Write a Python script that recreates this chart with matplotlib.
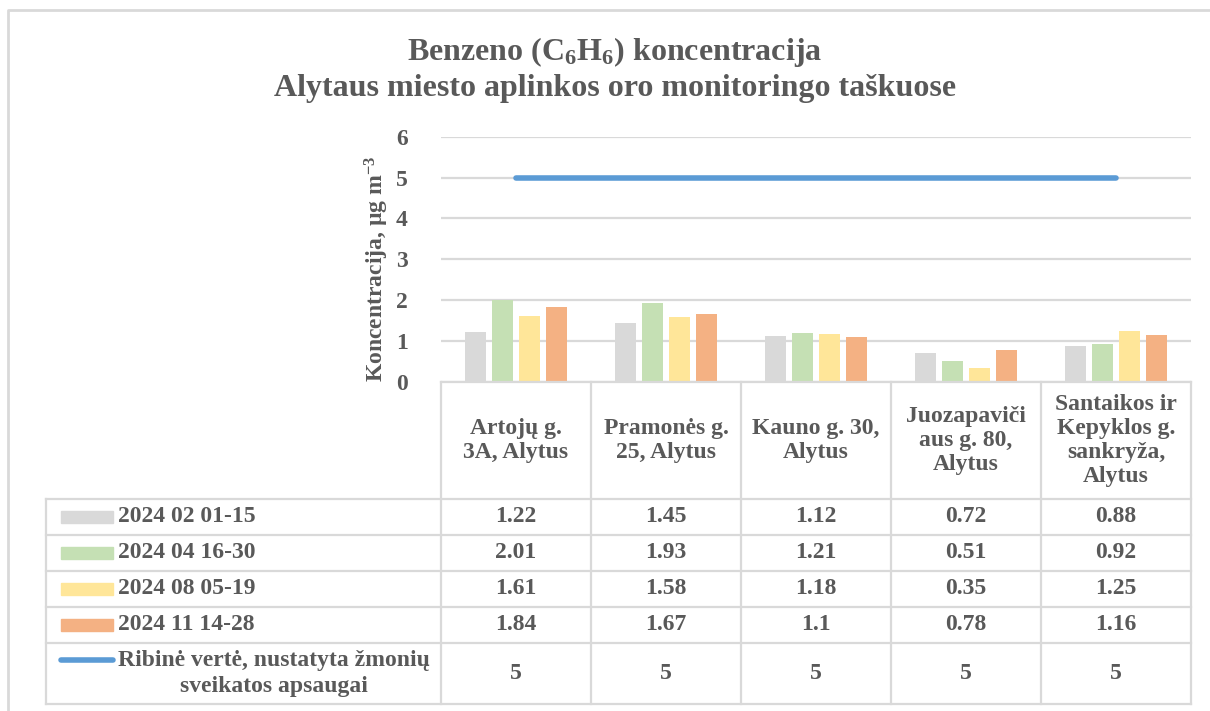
"""Benzene concentration chart with Excel-style data table."""
import matplotlib

matplotlib.use("Agg")

import matplotlib.pyplot as plt
from matplotlib.lines import Line2D
from matplotlib.patches import Rectangle
from matplotlib.transforms import blended_transform_factory

# --- data -------------------------------------------------------------
sites = [
    "Artojų g.\n3A, Alytus",
    "Pramonės g.\n25, Alytus",
    "Kauno g. 30,\nAlytus",
    "Juozapaviči\naus g. 80,\nAlytus",
    "Santaikos ir\nKepyklos g.\nsankryža,\nAlytus",
]
periods = ["2024 02 01-15", "2024 04 16-30", "2024 08 05-19", "2024 11 14-28"]
feb = [1.22, 1.45, 1.12, 0.72, 0.88]
apr = [2.01, 1.93, 1.21, 0.51, 0.92]
aug = [1.61, 1.58, 1.18, 0.35, 1.25]
nov = [1.84, 1.67, 1.1, 0.78, 1.16]
limit = [5, 5, 5, 5, 5]
limit_label = "Ribinė vertė, nustatyta žmonių\nsveikatos apsaugai"
yticks = [0, 1, 2, 3, 4, 5, 6]

series = [feb, apr, aug, nov]
bar_colors = ["#D9D9D9", "#C5E0B4", "#FFE699", "#F4B183"]
line_color = "#5B9BD5"
grid_color = "#D9D9D9"
text_color = "#595959"
FS = 17

W, H = 1210, 711

plt.rcParams["font.family"] = "Liberation Serif"
plt.rcParams["font.weight"] = "bold"
plt.rcParams["mathtext.fontset"] = "custom"
plt.rcParams["mathtext.rm"] = "Liberation Serif:bold"
plt.rcParams["mathtext.it"] = "Liberation Serif:bold"
plt.rcParams["mathtext.bf"] = "Liberation Serif:bold"
plt.rcParams["mathtext.default"] = "rm"

fig = plt.figure(figsize=(W / 100, H / 100), dpi=100)


def fx(px):
    return px / W


def fy(py):
    return 1 - py / H


# plot area
left, right, top, bottom = 441, 1191, 136.7, 382
ax = fig.add_axes([fx(left), fy(bottom), fx(right - left), (bottom - top) / H])
ax.set_xlim(-0.5, len(sites) - 0.5)
ax.set_ylim(0, 6)

step, width = 0.18, 0.143
for j, vals in enumerate(series):
    xs = [i + (j - 1.5) * step for i in range(len(sites))]
    ax.bar(xs, vals, width=width, color=bar_colors[j], zorder=2)

ax.plot(range(len(sites)), limit, color=line_color, lw=4,
        solid_capstyle="round", zorder=3)

ax.set_yticks(yticks)
ax.set_yticklabels([str(t) for t in yticks])
ax.set_xticks([])
ax.tick_params(axis="y", length=0, pad=24, labelsize=FS, labelcolor=text_color)
ax.yaxis.grid(True, color=grid_color, lw=1.6, zorder=0)
ax.set_axisbelow(True)
for s in ["top", "right", "left"]:
    ax.spines[s].set_visible(False)
ax.spines["bottom"].set_color(grid_color)
ax.spines["bottom"].set_linewidth(1.6)
ax.set_ylabel("Koncentracija, µg m$^{-3}$", fontsize=FS, fontweight="bold",
              color=text_color)
ax.yaxis.set_label_coords(-0.067, 0.46)

# title
fig.text(fx(615), fy(60), "Benzeno (C$_6$H$_6$) koncentracija",
         ha="center", va="baseline", fontsize=23, color=text_color)
fig.text(fx(615), fy(96), "Alytaus miesto aplinkos oro monitoringo taškuose",
         ha="center", va="baseline", fontsize=23, color=text_color)

# data table --------------------------------------------------------------
tr = blended_transform_factory(ax.transData, fig.transFigure)
row_lines = [382, 499, 535, 571, 607, 643, 704]
tab_left = 46
lw_tab = 1.6

# vertical column lines
for i in range(len(sites) + 1):
    fig.add_artist(Line2D([i - 0.5, i - 0.5], [fy(382), fy(704)], transform=tr,
                          color=grid_color, lw=lw_tab))
fig.add_artist(Line2D([fx(tab_left), fx(tab_left)], [fy(499), fy(704)],
                      transform=fig.transFigure, color=grid_color, lw=lw_tab))
# horizontal row lines
for py in row_lines[1:]:
    fig.add_artist(Line2D([fx(tab_left), fx(right)], [fy(py), fy(py)],
                          transform=fig.transFigure, color=grid_color, lw=lw_tab))

# header labels
for i, s in enumerate(sites):
    fig.text(i, fy((382 + 499) / 2), s, transform=tr, ha="center", va="center",
             fontsize=FS, color=text_color, linespacing=1.17)

# value rows
for j, vals in enumerate(series):
    yc = (row_lines[j + 1] + row_lines[j + 2]) / 2
    for i, v in enumerate(vals):
        fig.text(i, fy(yc), f"{v:g}", transform=tr, ha="center", va="center",
                 fontsize=FS, color=text_color)
    fig.add_artist(Rectangle((fx(61), fy(yc + 6)), fx(52), 12 / H,
                             transform=fig.transFigure, color=bar_colors[j]))
    fig.text(fx(118), fy(yc), periods[j], ha="left", va="center",
             fontsize=FS, color=text_color)

yc = (row_lines[5] + row_lines[6]) / 2
for i, v in enumerate(limit):
    fig.text(i, fy(yc), f"{v:g}", transform=tr, ha="center", va="center",
             fontsize=FS, color=text_color)
fig.add_artist(Line2D([fx(61), fx(113)], [fy(660), fy(660)], transform=fig.transFigure,
                      color=line_color, lw=4, solid_capstyle="round"))
fig.text(fx(118), fy(yc), limit_label, ha="left", va="center", multialignment="center",
         fontsize=FS, color=text_color, linespacing=1.3)

# chart border
fig.add_artist(Line2D([fx(8), fx(8), fx(W)], [0, fy(10), fy(10)],
                      transform=fig.transFigure, color=grid_color, lw=2))

fig.savefig("out.png", dpi=100)
